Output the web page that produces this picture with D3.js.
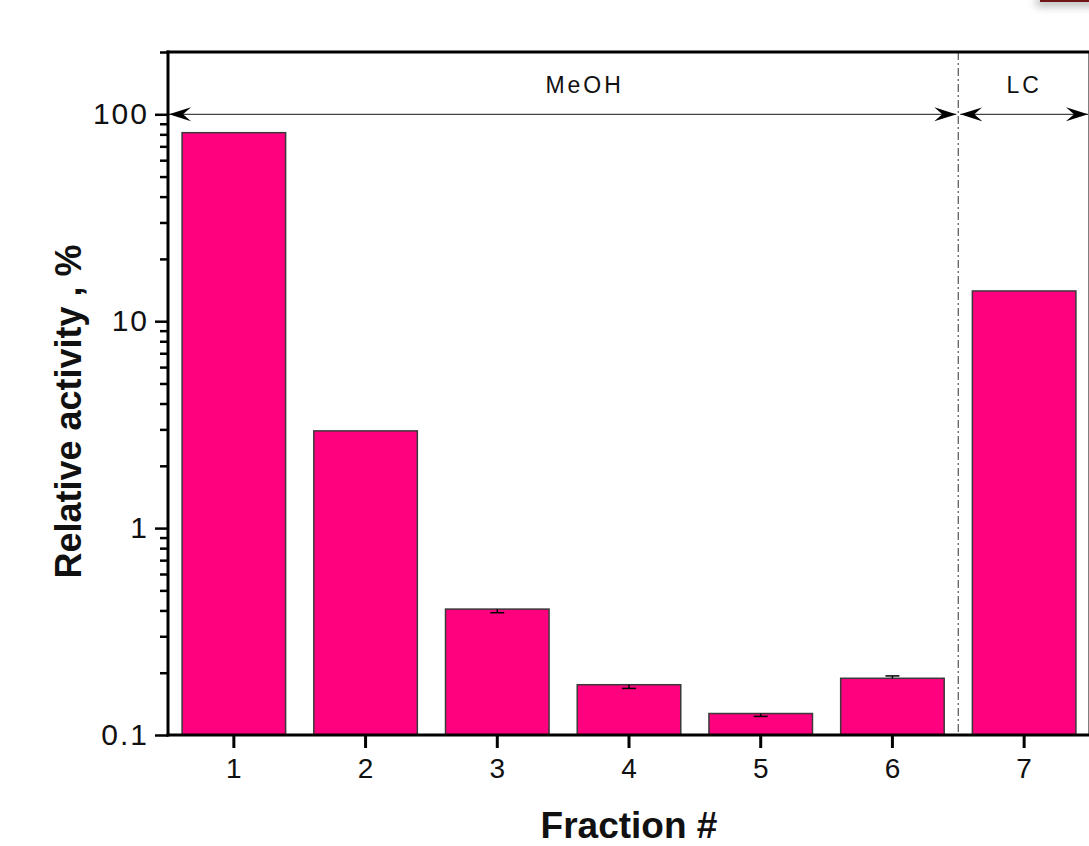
<!DOCTYPE html>
<html>
<head>
<meta charset="utf-8">
<script src="https://cdn.jsdelivr.net/npm/d3@7/dist/d3.min.js"></script>
<style>
  html, body { margin: 0; padding: 0; background: #fff; }
  svg { display: block; font-family: "Liberation Sans", Arial, sans-serif; }
</style>
</head>
<body>
<svg id="chart" width="1089" height="846"></svg>
<script>
// Fractions and their relative activity (%), log scale
const fractions = ["1", "2", "3", "4", "5", "6", "7"];
const activity  = [81.5, 2.95, 0.406, 0.175, 0.127, 0.188, 14.0];
// Whisker ends (null = no whisker drawn)
const errLow    = [null, null, 0.390, 0.168, 0.123, null, null];
const errHigh   = [null, null, null, null, null, 0.193, null];
const yTicks    = [0.1, 1, 10, 100];
const yTickLabels = ["0.1", "1", "10", "100"];
// Solvent regions spanning groups of fractions
const regions   = [
  { label: "MeOH", from: "1", to: "6" },
  { label: "LC",   from: "7", to: "7" }
];

const svg = d3.select("#chart");
const W = 1089, H = 846;
const plot = { left: 168, right: 1090, top: 52, bottom: 735 };

svg.append("rect").attr("width", W).attr("height", H).attr("fill", "#fff");

const x = d3.scaleBand()
  .domain(fractions)
  .range([plot.left, plot.right])
  .paddingInner(0.214)
  .paddingOuter(0.107);

const y = d3.scaleLog()
  .domain([0.1, 200])
  .range([plot.bottom, plot.top]);

// Small decorative tab at the top-right corner
const defs = svg.append("defs");
const shadow = defs.append("filter").attr("id", "tabShadow")
  .attr("x", "-50%").attr("y", "-50%").attr("width", "200%").attr("height", "400%");
shadow.append("feDropShadow").attr("dx", -4).attr("dy", 4)
  .attr("stdDeviation", 4).attr("flood-color", "#000").attr("flood-opacity", 0.3);
svg.append("rect")
  .attr("x", 1040).attr("y", -6).attr("width", 60).attr("height", 8)
  .attr("fill", "#6e1414").attr("filter", "url(#tabShadow)");

// Arrowhead marker (tip at the line end)
defs.append("marker")
  .attr("id", "arrow")
  .attr("viewBox", "0 -8 22 16")
  .attr("refX", 22).attr("refY", 0)
  .attr("markerWidth", 22).attr("markerHeight", 16)
  .attr("markerUnits", "userSpaceOnUse")
  .attr("orient", "auto-start-reverse")
  .append("path")
  .attr("d", "M22,0 L0,-7 L8,0 L0,7 Z")
  .attr("fill", "#000");

// Bars
svg.append("g").selectAll("rect.bar")
  .data(fractions)
  .join("rect")
  .attr("class", "bar")
  .attr("x", d => x(d))
  .attr("width", x.bandwidth())
  .attr("y", (d, i) => y(activity[i]))
  .attr("height", (d, i) => plot.bottom - y(activity[i]))
  .attr("fill", "#ff007f")
  .attr("stroke", "#3a3a3a")
  .attr("stroke-width", 1.5);

// Whiskers
const whiskers = [];
fractions.forEach((f, i) => {
  if (errLow[i] != null) whiskers.push({ f, from: activity[i], to: errLow[i] });
  if (errHigh[i] != null) whiskers.push({ f, from: activity[i], to: errHigh[i] });
});
const wg = svg.append("g").attr("stroke", "#000").attr("stroke-width", 1.5);
wg.selectAll("line.stem").data(whiskers).join("line")
  .attr("x1", d => x(d.f) + x.bandwidth() / 2)
  .attr("x2", d => x(d.f) + x.bandwidth() / 2)
  .attr("y1", d => y(d.from)).attr("y2", d => y(d.to));
wg.selectAll("line.cap").data(whiskers).join("line")
  .attr("x1", d => x(d.f) + x.bandwidth() / 2 - 7)
  .attr("x2", d => x(d.f) + x.bandwidth() / 2 + 7)
  .attr("y1", d => y(d.to)).attr("y2", d => y(d.to));

// Divider between solvent regions
const step = x.step();
const gapHalf = step * x.paddingInner() / 2;
const divX = x("7") - gapHalf;
svg.append("line")
  .attr("x1", divX).attr("x2", divX)
  .attr("y1", plot.top).attr("y2", plot.bottom)
  .attr("stroke", "#555").attr("stroke-width", 1.2)
  .attr("stroke-dasharray", "8,3,2,3");

// Region arrows and labels
const arrowY = y(100);
regions.forEach(r => {
  const x0 = r.from === fractions[0] ? plot.left + 1 : x(r.from) - gapHalf + 2;
  const x1 = r.to === fractions[fractions.length - 1] ? plot.right - 2 : x(r.to) + x.bandwidth() + gapHalf - 2;
  svg.append("line")
    .attr("x1", x0).attr("x2", x1)
    .attr("y1", arrowY).attr("y2", arrowY)
    .attr("stroke", "#444").attr("stroke-width", 1.3)
    .attr("marker-start", "url(#arrow)")
    .attr("marker-end", "url(#arrow)");
  svg.append("text")
    .attr("x", (x0 + x1) / 2 + (r.label === "MeOH" ? 22 : 0))
    .attr("y", arrowY - 21)
    .attr("text-anchor", "middle")
    .attr("font-size", 23)
    .attr("letter-spacing", 3)
    .attr("fill", "#111")
    .text(r.label);
});

// Y axis: minor ticks
const minor = [];
for (let e = -1; e <= 2; e++) {
  for (let m = 2; m <= 9; m++) {
    const v = m * Math.pow(10, e);
    if (v <= 200) minor.push(v);
  }
}
svg.append("g")
  .attr("transform", `translate(${plot.left},0)`)
  .call(d3.axisLeft(y).tickValues(minor).tickSize(8).tickFormat(""))
  .call(g => g.select(".domain").remove())
  .call(g => g.selectAll(".tick line").attr("stroke", "#000").attr("stroke-width", 2.5));

// Y axis: major ticks and labels
svg.append("g")
  .attr("transform", `translate(${plot.left},0)`)
  .call(d3.axisLeft(y).tickValues(yTicks).tickSize(13).tickPadding(6)
    .tickFormat((d, i) => yTickLabels[i]))
  .call(g => g.select(".domain").remove())
  .call(g => g.selectAll(".tick line").attr("stroke", "#000").attr("stroke-width", 2.5))
  .call(g => g.selectAll(".tick text")
    .attr("font-family", "'Liberation Sans', Arial, sans-serif")
    .attr("font-size", 30).attr("fill", "#111").attr("letter-spacing", 2));

// X axis
svg.append("g")
  .attr("transform", `translate(0,${plot.bottom})`)
  .call(d3.axisBottom(x).tickSize(13).tickPadding(10))
  .call(g => g.select(".domain").remove())
  .call(g => g.selectAll(".tick line").attr("stroke", "#000").attr("stroke-width", 3))
  .call(g => g.selectAll(".tick text")
    .attr("font-family", "'Liberation Sans', Arial, sans-serif")
    .attr("font-size", 28).attr("fill", "#111"));

// Frame
const frame = svg.append("g").attr("stroke", "#000").attr("fill", "none");
frame.append("line").attr("x1", plot.left).attr("x2", plot.left)
  .attr("y1", plot.top - 1.5).attr("y2", plot.bottom + 1.5).attr("stroke-width", 3);
frame.append("line").attr("x1", plot.left - 1.5).attr("x2", plot.right)
  .attr("y1", plot.top).attr("y2", plot.top).attr("stroke-width", 3);
frame.append("line").attr("x1", plot.left - 1.5).attr("x2", plot.right)
  .attr("y1", plot.bottom).attr("y2", plot.bottom).attr("stroke-width", 3);
frame.append("line").attr("x1", plot.right).attr("x2", plot.right)
  .attr("y1", plot.top).attr("y2", plot.bottom).attr("stroke-width", 3);

// Axis titles
svg.append("text")
  .attr("transform", `translate(81,${(plot.top + plot.bottom) / 2 + 18}) rotate(-90)`)
  .attr("text-anchor", "middle")
  .attr("font-size", 36).attr("font-weight", "bold").attr("fill", "#111")
  .text("Relative activity , %");

svg.append("text")
  .attr("x", 629).attr("y", 838)
  .attr("text-anchor", "middle")
  .attr("font-size", 37).attr("font-weight", "bold").attr("fill", "#111")
  .text("Fraction #");
</script>
</body>
</html>
